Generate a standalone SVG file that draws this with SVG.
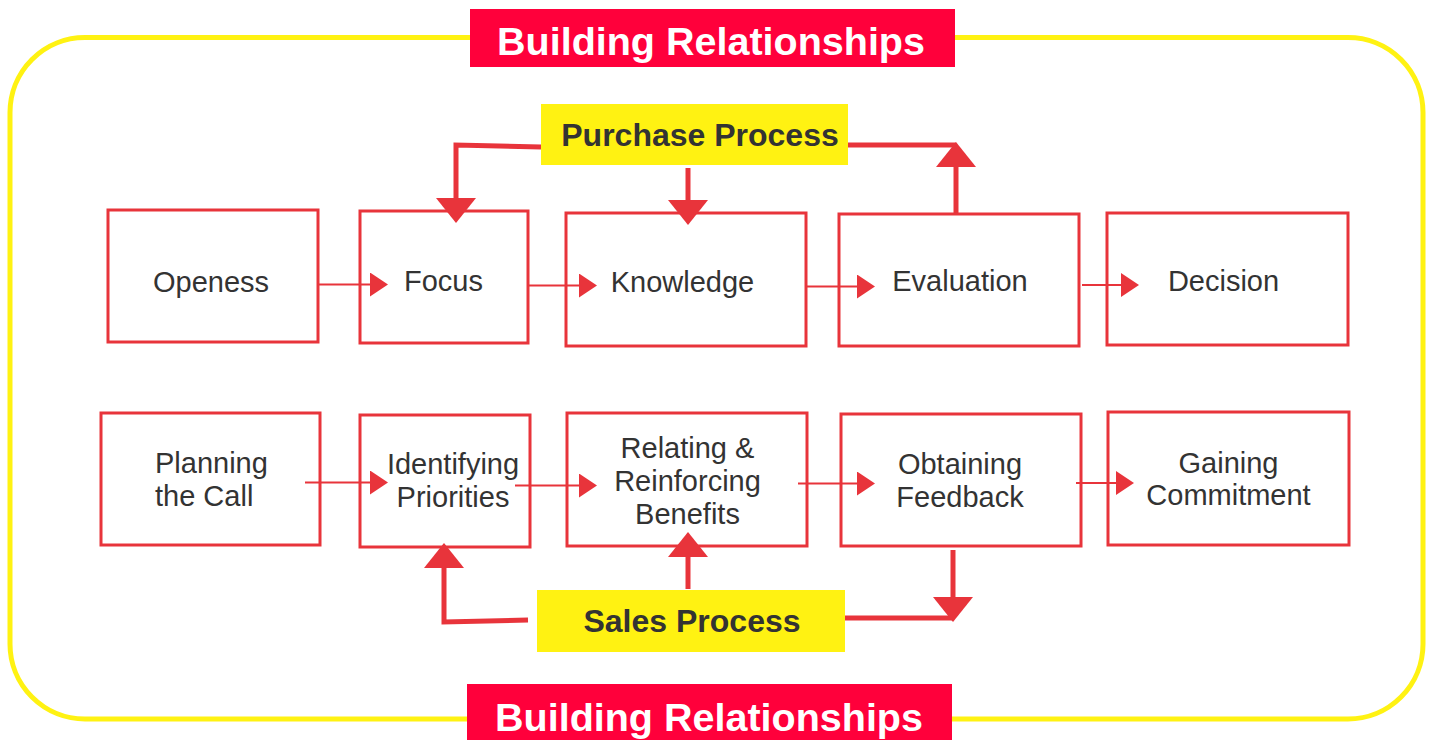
<svg xmlns="http://www.w3.org/2000/svg" width="1432" height="740" viewBox="0 0 1432 740">
  <style>
    .frame { fill: none; stroke: #FFF212; stroke-width: 5; }
    .banner { fill: #FF003B; }
    .banner-text { font-family: "Liberation Sans", Arial, sans-serif; font-weight: bold; font-size: 39.5px; fill: #FFFFFF; text-anchor: middle; }
    .tag { fill: #FFF212; }
    .tag-text { font-family: "Liberation Sans", Arial, sans-serif; font-weight: bold; font-size: 32px; fill: #333333; text-anchor: middle; }
    .box { fill: #FFFFFF; stroke: #E8343B; stroke-width: 3; }
    .label { font-family: "Liberation Sans", Arial, sans-serif; font-size: 29px; fill: #333333; text-anchor: middle; }
    .flow { fill: none; stroke: #E8343B; stroke-width: 1.8; marker-end: url(#thin-head); }
    .link { fill: none; stroke: #E8343B; stroke-width: 5; }
    .link-arrow { marker-end: url(#thick-head); }
  </style>
  <defs>
    <marker id="thin-head" markerUnits="userSpaceOnUse" markerWidth="18" markerHeight="24" viewBox="0 0 18 24" refX="0" refY="12" orient="auto">
      <path d="M0,0 L18,12 L0,24 Z" fill="#E8343B"/>
    </marker>
    <marker id="thick-head" markerUnits="userSpaceOnUse" markerWidth="25" markerHeight="40" viewBox="0 0 25 40" refX="0" refY="20" orient="auto">
      <path d="M0,0 L25,20 L0,40 Z" fill="#E8343B"/>
    </marker>
  </defs>

  <!-- outer rounded frame -->
  <rect class="frame" x="10" y="37.5" width="1413" height="681.5" rx="75" ry="75"/>

  <!-- banners -->
  <g id="banner-top">
    <rect class="banner" x="470" y="9" width="485" height="58"/>
    <text class="banner-text" x="711" y="55">Building Relationships</text>
  </g>
  <g id="banner-bottom">
    <rect class="banner" x="467" y="684" width="485" height="60"/>
    <text class="banner-text" x="709" y="731">Building Relationships</text>
  </g>

  <!-- purchase process stages -->
  <g id="openess">
    <rect class="box" x="108" y="210" width="210" height="132"/>
    <text class="label" x="211" y="292">Openess</text>
  </g>
  <g id="focus">
    <rect class="box" x="360" y="211" width="168" height="132"/>
    <text class="label" x="443.5" y="291">Focus</text>
  </g>
  <g id="knowledge">
    <rect class="box" x="566" y="213" width="240" height="133"/>
    <text class="label" x="682.5" y="292">Knowledge</text>
  </g>
  <g id="evaluation">
    <rect class="box" x="839" y="214" width="240" height="132"/>
    <text class="label" x="960" y="291">Evaluation</text>
  </g>
  <g id="decision">
    <rect class="box" x="1107" y="213" width="241" height="132"/>
    <text class="label" x="1223.5" y="291">Decision</text>
  </g>

  <!-- sales process stages -->
  <g id="planning">
    <rect class="box" x="101" y="413" width="219" height="132"/>
    <text class="label" x="155" y="473" style="text-anchor:start">Planning</text>
    <text class="label" x="155" y="506" style="text-anchor:start">the Call</text>
  </g>
  <g id="identifying">
    <rect class="box" x="360" y="415" width="170" height="132"/>
    <text class="label" x="453" y="474">Identifying</text>
    <text class="label" x="453" y="507">Priorities</text>
  </g>
  <g id="relating">
    <rect class="box" x="567" y="413" width="240" height="133"/>
    <text class="label" x="687.5" y="458">Relating &amp;</text>
    <text class="label" x="687.5" y="491">Reinforcing</text>
    <text class="label" x="687.5" y="524">Benefits</text>
  </g>
  <g id="obtaining">
    <rect class="box" x="841" y="414" width="240" height="132"/>
    <text class="label" x="960" y="474">Obtaining</text>
    <text class="label" x="960" y="507">Feedback</text>
  </g>
  <g id="gaining">
    <rect class="box" x="1108" y="412" width="241" height="133"/>
    <text class="label" x="1228.5" y="473">Gaining</text>
    <text class="label" x="1228.5" y="505">Commitment</text>
  </g>

  <!-- connectors, drawn over the stage boxes -->
  <g id="connectors">
    <!-- purchase process row -->
    <line class="flow" x1="318" y1="284.5" x2="370" y2="284.5"/>
    <line class="flow" x1="528" y1="285.5" x2="579" y2="285.5"/>
    <line class="flow" x1="806" y1="286.5" x2="857" y2="286.5"/>
    <line class="flow" x1="1082" y1="285" x2="1121" y2="285"/>
    <!-- sales process row -->
    <line class="flow" x1="305" y1="482.5" x2="370" y2="482.5"/>
    <line class="flow" x1="515" y1="485.5" x2="579" y2="485.5"/>
    <line class="flow" x1="798" y1="483.5" x2="857" y2="483.5"/>
    <line class="flow" x1="1076" y1="483" x2="1116" y2="483"/>

    <!-- purchase process links -->
    <path class="link link-arrow" d="M541,147 L456,145 L456,198"/>
    <path class="link link-arrow" d="M688,168 L688,200"/>
    <path class="link" d="M848,145 L956,145"/>
    <path class="link link-arrow" d="M956,214 L956,167"/>

    <!-- sales process links -->
    <path class="link link-arrow" d="M528,620 L444,622 L444,568"/>
    <path class="link link-arrow" d="M688,589 L688,557"/>
    <path class="link" d="M845,618 L953,618"/>
    <path class="link link-arrow" d="M953,550 L953,597"/>
  </g>

  <!-- process tags -->
  <g id="purchase-process">
    <rect class="tag" x="541" y="104" width="307" height="61"/>
    <text class="tag-text" x="700" y="146">Purchase Process</text>
  </g>
  <g id="sales-process">
    <rect class="tag" x="537" y="590" width="308" height="62"/>
    <text class="tag-text" x="692" y="632">Sales Process</text>
  </g>
</svg>
